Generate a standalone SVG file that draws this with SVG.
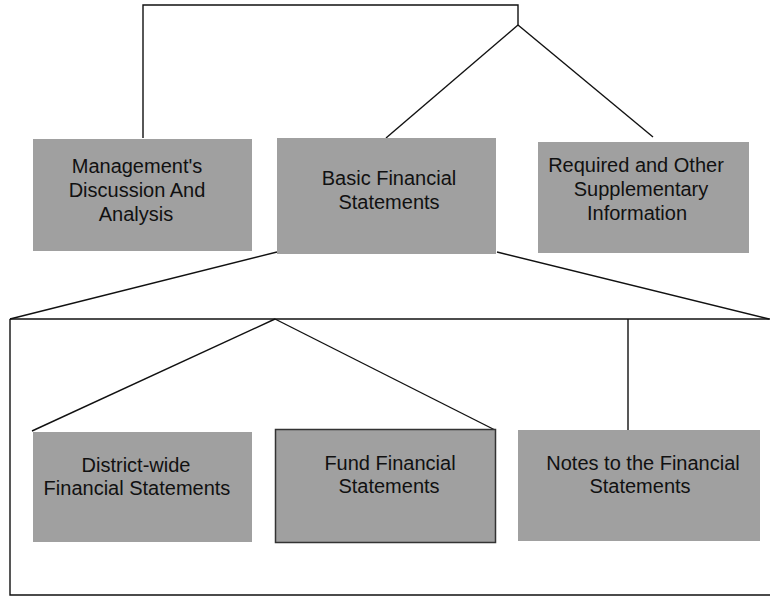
<svg xmlns="http://www.w3.org/2000/svg" width="770" height="596" viewBox="0 0 770 596">
<style>
.box{fill:#a0a0a0}
.bordered{stroke:#333;stroke-width:1.5}
.lbl{font-family:"Liberation Sans",Arial,sans-serif;font-size:20px;fill:#111;text-anchor:middle}
.conn{stroke:#111;stroke-width:1.4;fill:none}
</style>
<rect width="770" height="596" fill="#fff"/>
<g id="connectors">
<polyline class="conn" points="143,138 143,5 518,5 518,25"/>
<line class="conn" x1="518" y1="25" x2="386" y2="138"/>
<line class="conn" x1="518" y1="25" x2="653" y2="137"/>
<line class="conn" x1="277" y1="252" x2="10" y2="319"/>
<line class="conn" x1="497" y1="252" x2="769" y2="319"/>
<line class="conn" x1="10" y1="319" x2="770" y2="319"/>
<polyline class="conn" points="10,319 10,595 770,595"/>
<line class="conn" x1="275" y1="319" x2="32" y2="431"/>
<line class="conn" x1="275" y1="319" x2="495" y2="430"/>
<line class="conn" x1="628" y1="319" x2="628" y2="430"/>
</g>
<g id="mdna">
<rect class="box" x="33" y="139" width="219" height="112"/>
<text class="lbl" x="137" y="173">Management's</text>
<text class="lbl" x="137" y="197">Discussion And</text>
<text class="lbl" x="136" y="221">Analysis</text>
</g>
<g id="basic">
<rect class="box" x="277" y="138" width="219" height="116"/>
<text class="lbl" x="389" y="185">Basic Financial</text>
<text class="lbl" x="389" y="209">Statements</text>
</g>
<g id="required">
<rect class="box" x="538" y="142" width="211" height="111"/>
<text class="lbl" x="636" y="172">Required and Other</text>
<text class="lbl" x="641" y="196">Supplementary</text>
<text class="lbl" x="637" y="220">Information</text>
</g>
<g id="district">
<rect class="box" x="33" y="432" width="219" height="110"/>
<text class="lbl" x="136" y="472">District-wide</text>
<text class="lbl" x="137" y="495">Financial Statements</text>
</g>
<g id="fund">
<rect class="box bordered" x="275.5" y="429.5" width="220" height="113"/>
<text class="lbl" x="390" y="470">Fund Financial</text>
<text class="lbl" x="389" y="493">Statements</text>
</g>
<g id="notes">
<rect class="box" x="518" y="430" width="242" height="111"/>
<text class="lbl" x="643" y="470">Notes to the Financial</text>
<text class="lbl" x="640" y="493">Statements</text>
</g>
</svg>
